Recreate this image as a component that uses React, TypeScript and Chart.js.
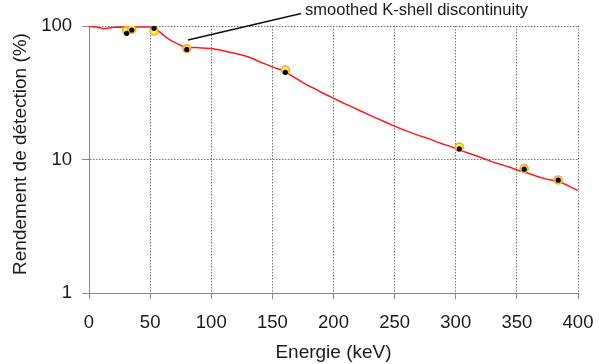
import React, { useEffect, useRef } from "react";
import { Chart, registerables } from "chart.js";

Chart.register(...registerables);

// ---- data ----
const curveEnergy = [
  0, 3, 6, 9, 12, 15, 18, 21, 25, 30, 35, 40, 45, 50, 53, 56, 60, 64, 68, 72, 76, 80, 84, 88, 92, 96,
  100, 105, 110, 115, 120, 125, 130, 135, 140, 145, 150, 155, 160, 165, 170, 175, 180, 185, 190, 195,
  200, 205, 210, 215, 220, 225, 230, 235, 240, 245, 250, 255, 260, 265, 270, 275, 280, 285, 290, 295,
  300, 305, 310, 315, 320, 325, 330, 335, 340, 345, 350, 355, 360, 365, 370, 375, 380, 385, 390, 395, 400,
];
const curveEfficiency = [
  99.0, 98.6, 98.3, 97.0, 95.2, 96.3, 97.2, 97.7, 98.1, 98.0, 98.3, 98.4, 98.4, 98.2, 97.2, 93.0, 87.0, 81.0, 77.0, 73.8, 70.8, 68.0, 68.9, 68.9, 68.5, 68.2,
  67.7, 66.6, 65.2, 63.7, 62.3, 60.7, 58.9, 56.4, 53.8, 51.6, 49.4, 47.6, 45.7, 42.9, 40.1, 37.6, 35.5, 33.8, 31.9, 30.3,
  28.8, 27.3, 26.0, 24.8, 23.6, 22.5, 21.4, 20.4, 19.5, 18.6, 17.8, 17.0, 16.3, 15.7, 15.1, 14.6, 14.1, 13.5, 13.0, 12.6,
  12.1, 11.6, 11.2, 10.8, 10.4, 10.0, 9.6, 9.3, 9.0, 8.7, 8.35, 8.1, 7.85, 7.55, 7.3, 7.1, 6.95, 6.8, 6.5, 6.15, 5.85,
];

const lineEnergies = [30.8, 35.0, 53.2, 80.0, 160.6, 302.9, 356.0, 383.8];
const measuredA = [92.2, 94.5, 91.7, 67.6, 46.8, 12.4, 8.56, 7.03];
const measuredB = [88.1, 93.3, 96.1, 66.8, 45.0, 12.0, 8.46, 7.0];

const xTickValues = [0, 50, 100, 150, 200, 250, 300, 350, 400];
const yTickValues = [1, 10, 100];

const xTitle = "Energie (keV)";
const yTitle = "Rendement de détection (%)";
const noteText = "smoothed K-shell discontinuity";
const noteFrom = [81, 78.5];
const noteTo = [173.5, 124];

const FONT = '"Liberation Sans", Arial, Helvetica, sans-serif';
const TEXT = "#1a1a1a";

const overlayPlugin = {
  id: "overlay",
  afterDraw(chart: any) {
    const { ctx } = chart;
    const xs = chart.scales.x;
    const ys = chart.scales.y;
    // y axis title
    ctx.save();
    ctx.font = `19px ${FONT}`;
    ctx.fillStyle = TEXT;
    ctx.translate(20.5, 154);
    ctx.rotate(-Math.PI / 2);
    ctx.textAlign = "center";
    ctx.textBaseline = "middle";
    ctx.fillText(yTitle, 0, 0);
    ctx.restore();

    // annotation
    const x1 = xs.getPixelForValue(noteFrom[0]);
    const y1 = ys.getPixelForValue(noteFrom[1]);
    const x2 = xs.getPixelForValue(noteTo[0]);
    const y2 = ys.getPixelForValue(noteTo[1]);
    ctx.save();
    ctx.strokeStyle = "#111";
    ctx.lineWidth = 1.5;
    ctx.beginPath();
    ctx.moveTo(x1, y1);
    ctx.lineTo(x2, y2);
    ctx.stroke();
    ctx.font = `16.5px ${FONT}`;
    ctx.fillStyle = TEXT;
    ctx.textAlign = "left";
    ctx.textBaseline = "alphabetic";
    ctx.fillText(noteText, x2 + 4, y2 + 1.5);
    ctx.restore();
  },
};

export default function App() {
  const ref = useRef<HTMLCanvasElement | null>(null);

  useEffect(() => {
    if (!ref.current) return;
    const chart = new Chart(ref.current, {
      type: "scatter",
      data: {
        datasets: [
          {
            label: "B",
            data: lineEnergies.map((e, i) => ({ x: e, y: measuredB[i] })),
            backgroundColor: "#000000",
            borderWidth: 0,
            pointRadius: 2.6,
            order: 0,
          },
          {
            label: "A",
            data: lineEnergies.map((e, i) => ({ x: e, y: measuredA[i] })),
            backgroundColor: "#ffff00",
            borderColor: "#ff9c5c",
            borderWidth: 1.5,
            pointRadius: 4,
            order: 1,
          },
          {
            label: "curve",
            data: curveEnergy.map((e, i) => ({ x: e, y: curveEfficiency[i] })),
            showLine: true,
            borderColor: "#ff1a1a",
            borderWidth: 1.5,
            pointRadius: 0,
            tension: 0,
            order: 2,
          } as any,
        ],
      },
      options: {
        animation: false,
        responsive: false,
        devicePixelRatio: 1,
        layout: { padding: { left: 0, top: 26, right: 21, bottom: 0 } },
        plugins: {
          legend: { display: false },
          tooltip: { enabled: false },
        },
        scales: {
          x: {
            type: "linear",
            min: 0,
            max: 400,
            afterFit: (s: any) => {
              s.height = 71;
              s.paddingLeft = 0;
              s.paddingRight = 0;
            },
            afterBuildTicks: (s: any) => {
              s.ticks = xTickValues.map((v) => ({ value: v }));
            },
            ticks: {
              autoSkip: false,
              maxRotation: 0,
              padding: 13,
              color: TEXT,
              font: { family: FONT, size: 18.5 },
            },
            grid: {
              color: "#777777",
              lineWidth: 1,
              tickLength: 6,
              tickColor: "#888888",
              tickWidth: 1,
            },
            border: { display: true, color: "#8a8a8a", width: 1, dash: [1.5, 1.5] },
            title: {
              display: true,
              text: xTitle,
              color: TEXT,
              font: { family: FONT, size: 19 },
              padding: { top: 0, bottom: 0 },
            },
          },
          y: {
            type: "logarithmic",
            min: 1,
            max: 100,
            afterFit: (s: any) => {
              s.width = 89;
              s.paddingTop = 0;
              s.paddingBottom = 0;
            },
            afterBuildTicks: (s: any) => {
              s.ticks = yTickValues.map((v) => ({ value: v }));
            },
            ticks: {
              autoSkip: false,
              padding: 10,
              color: TEXT,
              font: { family: FONT, size: 18.5 },
              callback: (v: any) => String(v),
            },
            grid: {
              color: "#777777",
              lineWidth: 1,
              tickLength: 7,
              tickColor: "#888888",
              tickWidth: 1,
            },
            border: { display: true, color: "#8a8a8a", width: 1, dash: [1.5, 1.5] },
            title: { display: false },
          },
        },
      },
      plugins: [overlayPlugin],
    });
    return () => chart.destroy();
  }, []);

  return (
    <div style={{ position: "absolute", left: 0, top: 0, width: 599, height: 364, background: "#fff" }}>
      <canvas ref={ref} width={599} height={364} style={{ display: "block", width: 599, height: 364 }} />
    </div>
  );
}
